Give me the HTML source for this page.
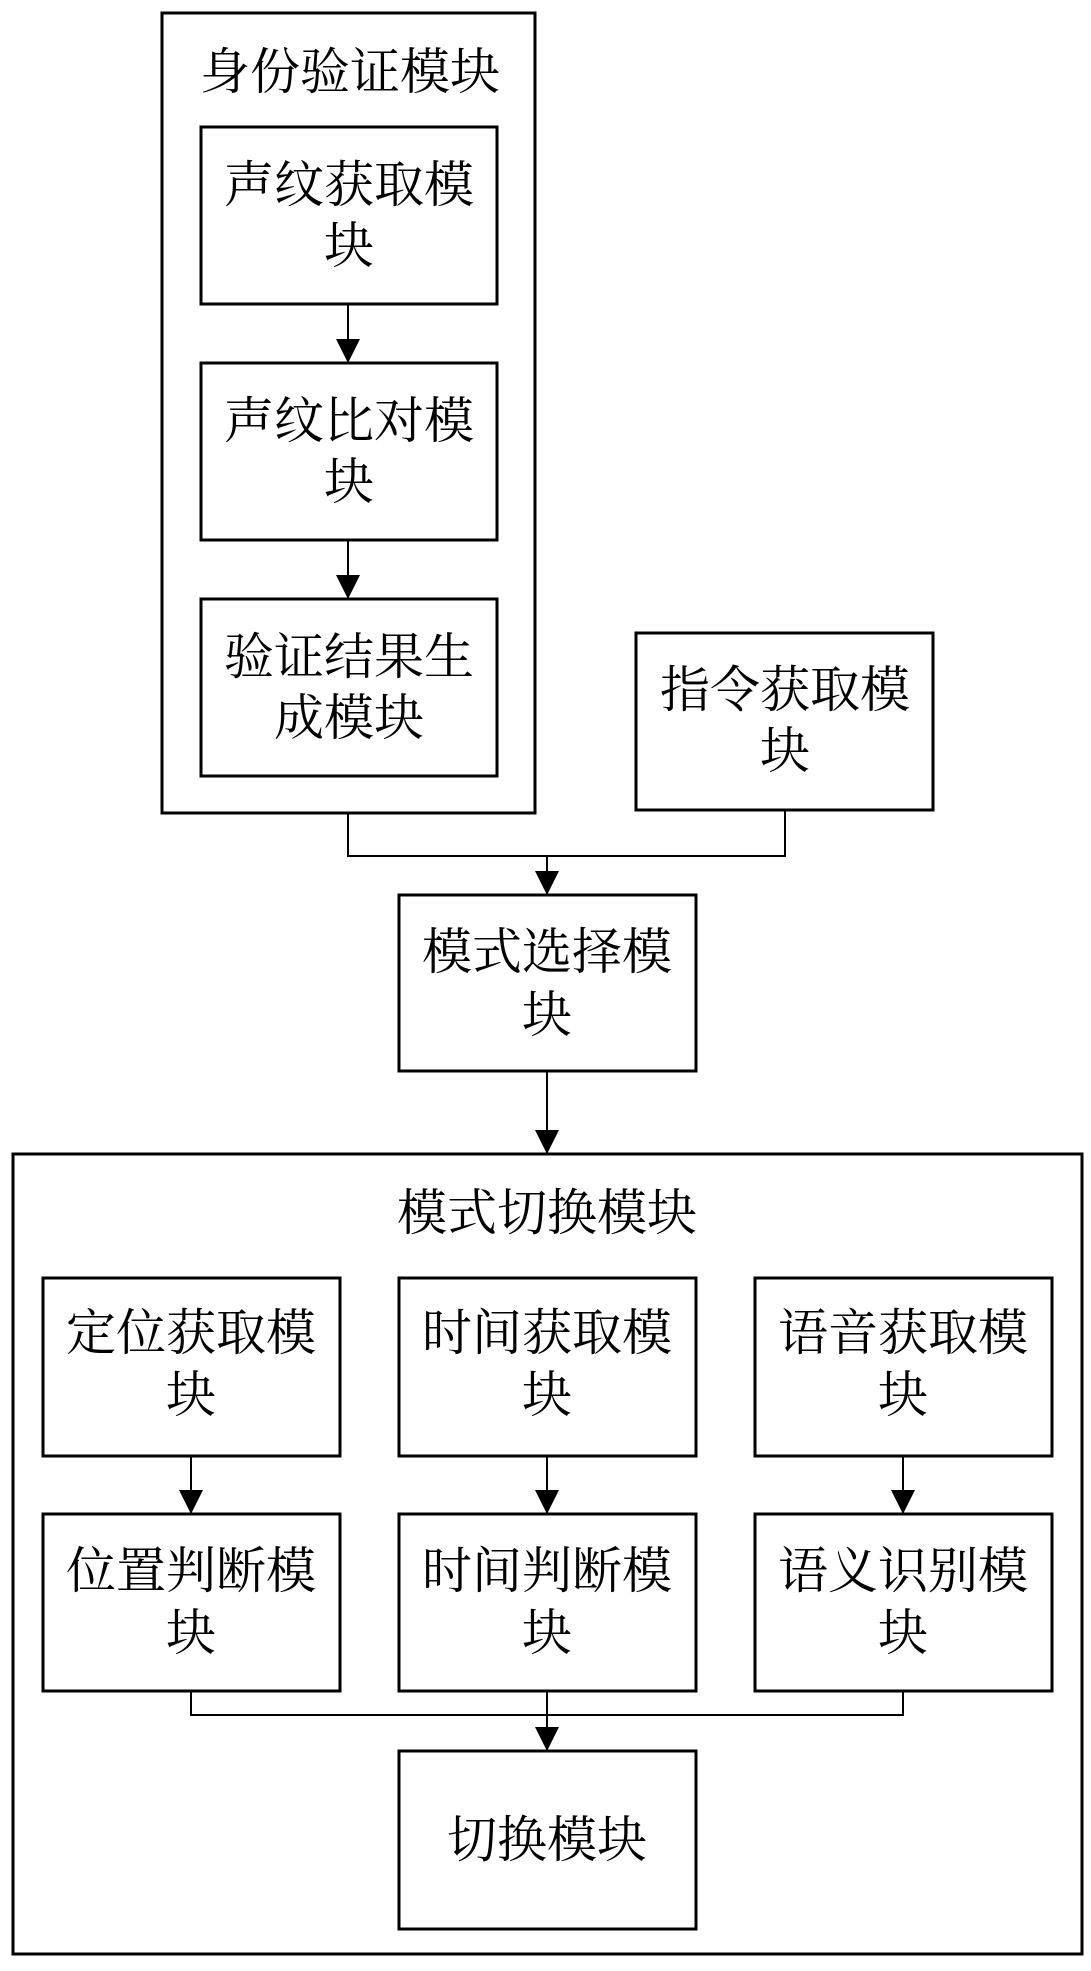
<!DOCTYPE html>
<html><head><meta charset="utf-8"><style>
html,body{margin:0;padding:0;background:#fff;}
svg text{font-family:"Liberation Serif","Noto Serif CJK SC",serif;font-size:50px;fill:#000;text-anchor:middle;}
</style></head><body>
<svg width="1091" height="1966" viewBox="0 0 1091 1966" xmlns="http://www.w3.org/2000/svg">
<defs>
<marker id="b" viewBox="0 0 24 24" refX="24" refY="12" markerWidth="24" markerHeight="24" orient="auto" markerUnits="userSpaceOnUse"><path d="M0,0 L24,12 L0,24 z" fill="#000"/></marker></defs>
<g fill="none" stroke="#000" stroke-width="3">
<rect x="162" y="13" width="373" height="800"/>
<rect x="201" y="127" width="296" height="177"/>
<rect x="201" y="363" width="296" height="177"/>
<rect x="201" y="599" width="296" height="177"/>
<rect x="636" y="633" width="297" height="177"/>
<rect x="399" y="895" width="297" height="176"/>
<rect x="13" y="1154" width="1069" height="800"/>
<rect x="43" y="1278" width="297" height="178"/>
<rect x="399" y="1278" width="297" height="178"/>
<rect x="755" y="1278" width="297" height="178"/>
<rect x="43" y="1514" width="297" height="177"/>
<rect x="399" y="1514" width="297" height="177"/>
<rect x="755" y="1514" width="297" height="177"/>
<rect x="399" y="1751" width="297" height="178"/>
</g>
<g fill="none" stroke="#000" stroke-width="2">
<line x1="348" y1="304" x2="348" y2="363" marker-end="url(#b)"/>
<line x1="348" y1="540" x2="348" y2="599" marker-end="url(#b)"/>
<polyline points="348,813 348,856 785,856 785,810"/>
<line x1="547" y1="856" x2="547" y2="895" marker-end="url(#b)"/>
<line x1="547" y1="1071" x2="547" y2="1154" marker-end="url(#b)"/>
<line x1="191" y1="1456" x2="191" y2="1514" marker-end="url(#b)"/>
<line x1="547" y1="1456" x2="547" y2="1514" marker-end="url(#b)"/>
<line x1="903" y1="1456" x2="903" y2="1514" marker-end="url(#b)"/>
<polyline points="191,1691 191,1715 903,1715 903,1691"/>
<line x1="547" y1="1691" x2="547" y2="1751" marker-end="url(#b)"/>
</g>
<text x="350" y="89">身份验证模块</text>
<text x="349" y="202">声纹获取模</text><text x="349" y="263">块</text>
<text x="349" y="438">声纹比对模</text><text x="349" y="499">块</text>
<text x="349" y="674">验证结果生</text><text x="349" y="735">成模块</text>
<text x="785" y="707">指令获取模</text><text x="785" y="768">块</text>
<text x="547" y="969">模式选择模</text><text x="547" y="1032">块</text>
<text x="547" y="1230">模式切换模块</text>
<text x="191" y="1350">定位获取模</text><text x="191" y="1412">块</text>
<text x="547" y="1350">时间获取模</text><text x="547" y="1412">块</text>
<text x="903" y="1350">语音获取模</text><text x="903" y="1412">块</text>
<text x="191" y="1588">位置判断模</text><text x="191" y="1650">块</text>
<text x="547" y="1588">时间判断模</text><text x="547" y="1650">块</text>
<text x="903" y="1588">语义识别模</text><text x="903" y="1650">块</text>
<text x="547" y="1857">切换模块</text>
</svg>
</body></html>
